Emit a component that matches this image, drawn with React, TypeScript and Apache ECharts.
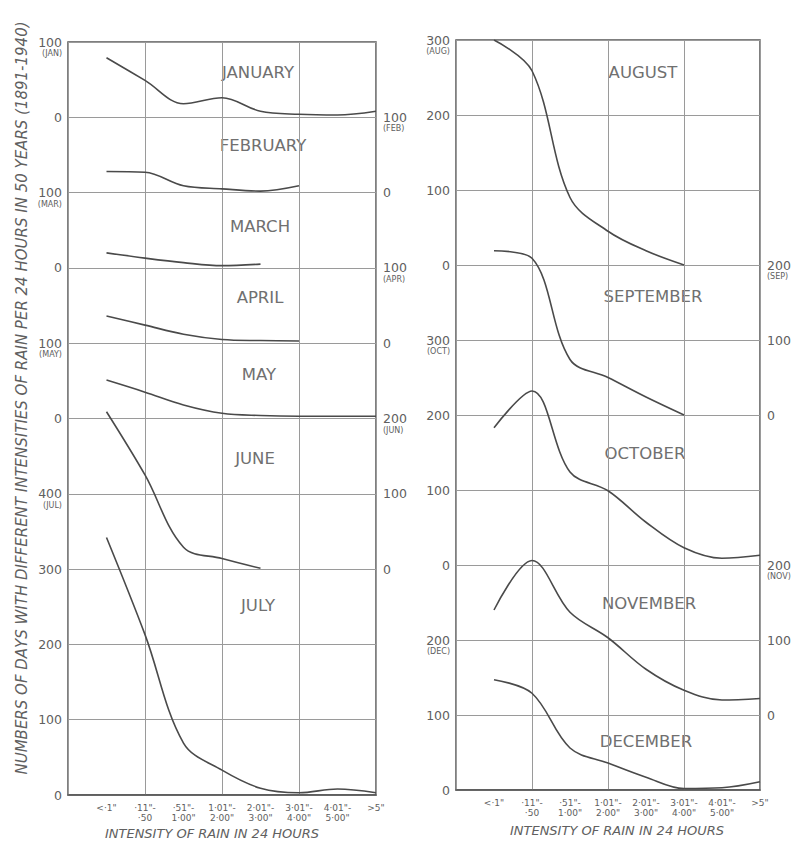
import React, { useEffect, useRef } from "react";
import * as echarts from "echarts";

// x categories (index 0 is the empty left edge of each panel)
const categories = ["", '<·1"', '·11"-\n·50', '·51"-\n1·00"', '1·01"-\n2·00"', '2·01"-\n3·00"', '3·01"-\n4·00"', '4·01"-\n5·00"', '>5"'];

// number of days per intensity class (null = curve not drawn)
const january = [79, 49, 18, 26, 8, 4, 3, 8];
const february = [28, 27, 9, 5, 2, 9, null, null];
const march = [20, 13, 7, 3, 5, null, null, null];
const april = [36, 24, 12, 5, 3.5, 3, null, null];
const may = [51, 35, 18, 7, 4, 3, 3, 3];
const june = [209, 125, 29, 14, 1, null, null, null];
const july = [342, 213, 69, 33, 9, 3, 8, 3];
const august = [300, 259, 90, 45, 19, 0, null, null];
const september = [219, 209, 74, 50, 24, 0, null, null];
const october = [183, 232, 124, 99, 57, 23, 9, 13];
const november = [140, 206, 137, 103, 61, 33, 20, 22];
const december = [147, 129, 56, 36, 17, 2, 3, 11];

// zero line of each month on the panel's common scale (0..1000)
const leftMonths = [
  { name: "JANUARY", values: january, base: 900 },
  { name: "FEBRUARY", values: february, base: 800 },
  { name: "MARCH", values: march, base: 700 },
  { name: "APRIL", values: april, base: 600 },
  { name: "MAY", values: may, base: 500 },
  { name: "JUNE", values: june, base: 300 },
  { name: "JULY", values: july, base: 0 },
];
const rightMonths = [
  { name: "AUGUST", values: august, base: 700 },
  { name: "SEPTEMBER", values: september, base: 500 },
  { name: "OCTOBER", values: october, base: 300 },
  { name: "NOVEMBER", values: november, base: 100 },
  { name: "DECEMBER", values: december, base: 0 },
];

// tick labels at common-scale values 0,100,...,1000
const leftPanelLeftLabels = ["0", "100", "200", "300", "400", "0", "100", "0", "100", "0", "100"];
const leftPanelLeftSubs = ["", "", "", "", "(JUL)", "", "(MAY)", "", "(MAR)", "", "(JAN)"];
const leftPanelRightLabels = ["", "", "", "0", "100", "200", "0", "100", "0", "100", ""];
const leftPanelRightSubs = ["", "", "", "", "", "(JUN)", "", "(APR)", "", "(FEB)", ""];
const rightPanelLeftLabels = ["0", "100", "200", "0", "100", "200", "300", "0", "100", "200", "300"];
const rightPanelLeftSubs = ["", "", "(DEC)", "", "", "", "(OCT)", "", "", "", "(AUG)"];
const rightPanelRightLabels = ["", "0", "100", "200", "", "0", "100", "200", "", "", ""];
const rightPanelRightSubs = ["", "", "", "(NOV)", "", "", "", "(SEP)", "", "", ""];

const yTitle = "NUMBERS OF DAYS WITH DIFFERENT INTENSITIES OF RAIN PER 24 HOURS IN 50 YEARS (1891-1940)";
const xTitle = "INTENSITY OF RAIN IN 24 HOURS";

const INK = "#4a4a4a";
const GRID = "#9a9a9a";
const TXT = "#606060";
const FONT = "DejaVu Sans, Liberation Sans, sans-serif";

function fmt(labels: string[], subs: string[]) {
  return (v: number) => {
    const i = Math.round(v / 100);
    const n = labels[i];
    if (!n) return "";
    const s = subs[i];
    return s ? `{sp| }\n{n|${n}}\n{s|${s}}` : `{n|${n}}`;
  };
}

const rich = {
  n: { fontSize: 12.5, lineHeight: 13, color: TXT, fontFamily: FONT },
  s: { fontSize: 8, lineHeight: 10, color: TXT, fontFamily: FONT },
  sp: { fontSize: 8, lineHeight: 10, color: TXT, fontFamily: FONT },
};

function yAx(gridIndex: number, position: "left" | "right", labels: string[], subs: string[], split: boolean) {
  return {
    type: "value",
    gridIndex,
    position,
    min: 0,
    max: 1000,
    interval: 100,
    axisLine: { show: false },
    axisTick: { show: false },
    splitLine: { show: split, lineStyle: { color: GRID, width: 1 } },
    axisLabel: {
      formatter: fmt(labels, subs),
      rich,
      margin: position === "left" ? 6 : 7,
      align: position === "left" ? "right" : "left",
    },
  };
}

function xAx(gridIndex: number) {
  return {
    type: "category",
    gridIndex,
    data: categories,
    boundaryGap: false,
    axisLine: { show: true, lineStyle: { color: "#555", width: 1.5 } },
    axisTick: { show: false },
    splitLine: {
      show: true,
      interval: (i: number) => i % 2 === 0,
      lineStyle: { color: GRID, width: 1 },
    },
    axisLabel: {
      interval: 0,
      fontSize: 9,
      lineHeight: 10,
      color: TXT,
      fontFamily: FONT,
      margin: 8,
    },
  };
}

function lineSeries(m: { values: (number | null)[]; base: number }, idx: number) {
  return {
    type: "line",
    xAxisIndex: idx,
    yAxisIndex: idx * 2,
    data: [null, ...m.values.map((v) => (v == null ? null : v + m.base))],
    smooth: 0.35,
    symbol: "none",
    connectNulls: false,
    lineStyle: { color: INK, width: 1.6 },
  };
}

const monthLabelPos: Record<string, [number, number]> = {
  JANUARY: [258, 72],
  FEBRUARY: [263, 145],
  MARCH: [260, 226],
  APRIL: [260, 297],
  MAY: [259, 374],
  JUNE: [255, 458],
  JULY: [258, 605],
  AUGUST: [643, 72],
  SEPTEMBER: [653, 296],
  OCTOBER: [645, 453],
  NOVEMBER: [649, 603],
  DECEMBER: [646, 741],
};

export default function App() {
  const ref = useRef<HTMLDivElement>(null);
  useEffect(() => {
    document.body.style.margin = "0";
    const chart = echarts.init(ref.current!, undefined, { renderer: "svg" });
    const monthTexts = [...leftMonths, ...rightMonths].map((m) => ({
      type: "text",
      x: monthLabelPos[m.name][0],
      y: monthLabelPos[m.name][1],
      style: {
        text: m.name,
        fill: "#707070",
        font: `16.5px ${FONT}`,
        align: "center",
        verticalAlign: "middle",
      },
    }));
    chart.setOption({
      animation: false,
      backgroundColor: "#ffffff",
      grid: [
        { left: 68, top: 42, width: 308, height: 753, show: true, borderColor: "#555", borderWidth: 1.5, containLabel: false },
        { left: 456, top: 40, width: 304, height: 750, show: true, borderColor: "#555", borderWidth: 1.5, containLabel: false },
      ],
      xAxis: [xAx(0), xAx(1)],
      yAxis: [
        yAx(0, "left", leftPanelLeftLabels, leftPanelLeftSubs, true),
        yAx(0, "right", leftPanelRightLabels, leftPanelRightSubs, false),
        yAx(1, "left", rightPanelLeftLabels, rightPanelLeftSubs, true),
        yAx(1, "right", rightPanelRightLabels, rightPanelRightSubs, false),
      ],
      series: [
        ...leftMonths.map((m) => lineSeries(m, 0)),
        ...rightMonths.map((m) => lineSeries(m, 1)),
      ],
      graphic: [
        ...monthTexts,
        {
          type: "text",
          x: 22,
          y: 398,
          rotation: Math.PI / 2,
          style: {
            text: yTitle,
            fill: TXT,
            font: `italic 15px ${FONT}`,
            align: "center",
            verticalAlign: "middle",
          },
        },
        {
          type: "text",
          x: 212,
          y: 833,
          style: { text: xTitle, fill: TXT, font: `italic 13px ${FONT}`, align: "center", verticalAlign: "middle" },
        },
        {
          type: "text",
          x: 617,
          y: 830,
          style: { text: xTitle, fill: TXT, font: `italic 13px ${FONT}`, align: "center", verticalAlign: "middle" },
        },
      ],
    });
    return () => chart.dispose();
  }, []);
  return <div ref={ref} style={{ width: 797, height: 845 }} />;
}
